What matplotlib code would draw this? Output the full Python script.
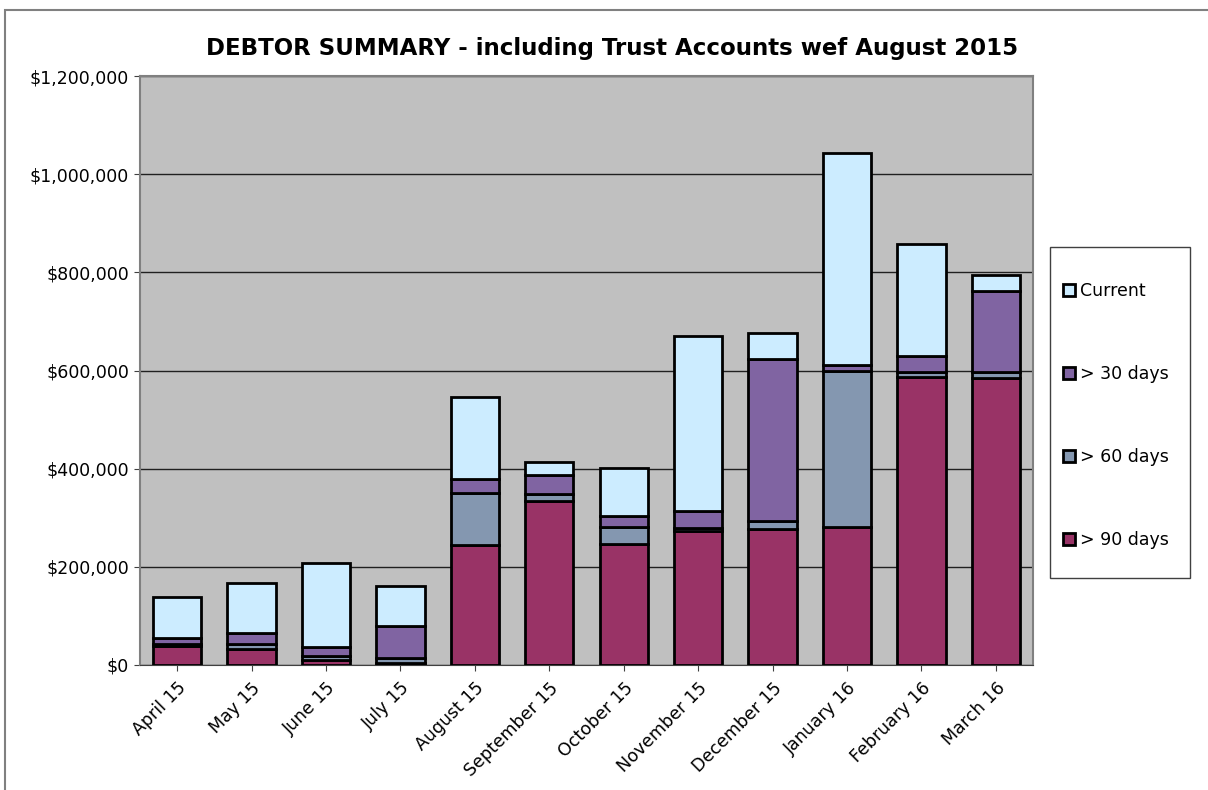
import numpy as np
import matplotlib.pyplot as plt
from matplotlib.patches import Rectangle
from matplotlib.ticker import FuncFormatter

# ============================================
# 資料
# ============================================
months = ['April 15', 'May 15', 'June 15', 'July 15', 'August 15', 'September 15',
          'October 15', 'November 15', 'December 15', 'January 16', 'February 16', 'March 16']

days_90 = [38000, 32000, 10000, 5000, 245000, 334000, 246000, 273000, 277000, 282000, 587000, 584000]
days_60 = [4000, 10000, 8000, 10000, 105000, 14000, 36000, 6000, 16000, 318000, 10000, 12000]
days_30 = [12000, 23000, 18000, 65000, 28000, 39000, 22000, 34000, 330000, 11000, 33000, 165000]
current = [85000, 103000, 172000, 80000, 167000, 27000, 97000, 357000, 53000, 433000, 228000, 34000]

series = [('> 90 days', days_90, '#993366'),
          ('> 60 days', days_60, '#8497B0'),
          ('> 30 days', days_30, '#8064A2'),
          ('Current', current, '#CCECFF')]

plt.rcParams['font.family'] = ['DejaVu Sans']

W, H = 1208, 790
fig = plt.figure(figsize=(W / 100, H / 100), dpi=100)
ax = fig.add_axes([140 / W, 1 - 665 / H, 893 / W, 589 / H])
ax.set_facecolor('#C0C0C0')

# 外框
fig.patches.append(Rectangle((5 / W, -0.1), 1.2, (H - 10) / H + 0.1,
                             transform=fig.transFigure, fill=False,
                             edgecolor='#808080', linewidth=1.5))

x = np.arange(len(months))
bottom = np.zeros(len(months))
handles = {}
for name, vals, color in series:
    vals = np.array(vals)
    b = ax.bar(x, vals, bottom=bottom, width=0.65, color=color,
               edgecolor='black', linewidth=2, label=name, zorder=3)
    handles[name] = b
    bottom += vals

ax.set_ylim(0, 1200000)
ax.set_xlim(-0.5, len(months) - 0.5)
ax.set_yticks(np.arange(0, 1200001, 200000))
ax.yaxis.set_major_formatter(FuncFormatter(lambda v, p: '${:,.0f}'.format(v)))
ax.grid(axis='y', color='#202020', linewidth=1, zorder=0)
ax.set_axisbelow(True)

ax.set_xticks(x)
ax.set_xticklabels(months, rotation=45, ha='right', rotation_mode='anchor')
ax.tick_params(axis='both', labelsize=12.5, length=4, color='#404040')
ax.tick_params(axis='x', pad=6)
ax.tick_params(axis='y', pad=4)

for side in ['top', 'right', 'left']:
    ax.spines[side].set_color('#808080')
    ax.spines[side].set_linewidth(1.5)
ax.spines['bottom'].set_color('#404040')

fig.text(612 / W, 1 - 48 / H, 'DEBTOR SUMMARY - including Trust Accounts wef August 2015',
         fontsize=16.5, fontweight='bold', ha='center', va='center')

# 圖例外框
fig.patches.append(Rectangle((1050 / W, 1 - 578 / H), 140 / W, 331 / H,
                             transform=fig.transFigure, facecolor='white',
                             edgecolor='#404040', linewidth=1))

order = ['Current', '> 30 days', '> 60 days', '> 90 days']
leg = fig.legend([handles[n] for n in order], order,
                 loc='upper left', bbox_to_anchor=(1063 / W, 1 - 282 / H),
                 fontsize=12.5, frameon=False,
                 handlelength=0.7, handleheight=0.7, handletextpad=0.3,
                 labelspacing=3.75, borderpad=0, borderaxespad=0)

plt.savefig('out.png', dpi=100)
plt.close()
